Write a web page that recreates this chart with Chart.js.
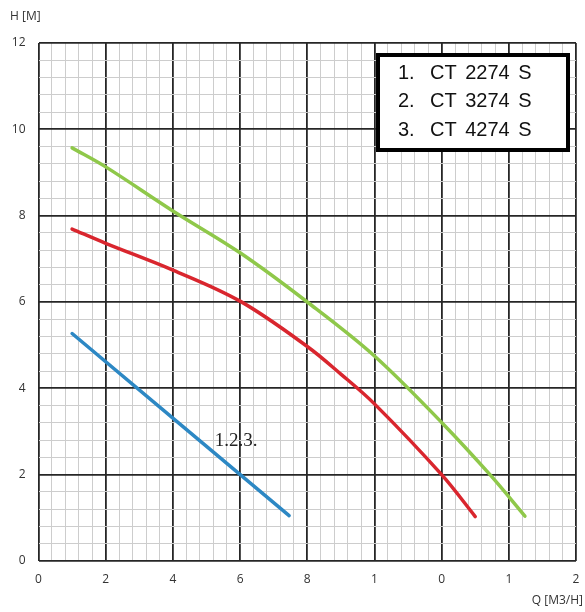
<!DOCTYPE html>
<html>
<head>
<meta charset="utf-8">
<script src="https://cdn.jsdelivr.net/npm/chart.js@4/dist/chart.umd.min.js"></script>
<style>
  html, body { margin: 0; padding: 0; background: #fff; }
  #wrap { width: 585px; height: 612px; position: relative; }
</style>
</head>
<body>
<div id="wrap"><canvas id="pumpchart"></canvas></div>
<script>
// pump curves, Q in m3/h, H in m
const pumpNames = ['CT 2274 S', 'CT 3274 S', 'CT 4274 S'];

const blueQ = [1.0, 7.46];
const blueH = [5.27, 1.05];

const redQ = [1.0, 2, 4, 6, 8, 9, 10, 12, 13.0];
const redH = [7.69, 7.36, 6.74, 6.02, 4.97, 4.33, 3.64, 2.0, 1.03];

const greenQ = [1.0, 2, 4, 6, 8, 10, 12, 13.44, 14.48];
const greenH = [9.57, 9.13, 8.11, 7.14, 6.0, 4.75, 3.21, 2.0, 1.04];

// tick labels as printed on the original (cut off digits)
const xTickLabels = ['0', '2', '4', '6', '8', '1', '0', '1', '2'];
const yTickLabels = ['0', '2', '4', '6', '8', '10', '12'];

const curveLabel = '1.2.3.';
const curveLabelAt = { x: 5.25, y: 2.66 };

function toPoints(qs, hs) {
    return qs.map((q, i) => ({ x: q, y: hs[i] }));
}

function isMajor(v) {
    return Math.abs(v / 2 - Math.round(v / 2)) < 1e-6;
}

const gridStyle = {
    drawTicks: false,
    color: (c) => isMajor(c.tick.value) ? '#262626' : '#cdcdcd',
    lineWidth: (c) => isMajor(c.tick.value) ? 1.8 : 1,
};

const extras = {
    id: 'extras',
    afterDatasetsDraw(chart) {
        const { ctx, chartArea, scales } = chart;
        ctx.save();

        // axis titles
        ctx.fillStyle = '#333';
        ctx.font = '12px "Open Sans"';
        ctx.textBaseline = 'middle';
        ctx.textAlign = 'left';
        ctx.fillText('H [M]', 10, 17);
        ctx.textAlign = 'right';
        ctx.fillText('Q [M3/H]', 583, 601);

        // curve label
        ctx.fillStyle = '#222';
        ctx.font = '19px "Liberation Serif"';
        ctx.textAlign = 'left';
        ctx.textBaseline = 'alphabetic';
        ctx.fillText(curveLabel, scales.x.getPixelForValue(curveLabelAt.x), scales.y.getPixelForValue(curveLabelAt.y));

        // legend box
        const bx = chartArea.right - 198, by = chartArea.top + 12, bw = 190, bh = 95;
        ctx.fillStyle = '#fff';
        ctx.fillRect(bx, by, bw, bh);
        ctx.lineWidth = 4;
        ctx.strokeStyle = '#000';
        ctx.strokeRect(bx, by, bw, bh);

        ctx.fillStyle = '#111';
        ctx.font = '20px "Liberation Sans"';
        ctx.textBaseline = 'middle';
        ctx.wordSpacing = '3px';
        pumpNames.forEach((name, i) => {
            const ty = by + 18 + i * 28.7;
            ctx.fillText((i + 1) + '.', bx + 20, ty);
            ctx.fillText(name, bx + 52, ty);
        });
        ctx.restore();
    }
};

const ctx = document.getElementById('pumpchart');

const pumpchart = new Chart(ctx, {
    type: 'scatter',
    data: {
        datasets: [
            {
                label: pumpNames[0],
                data: toPoints(blueQ, blueH),
                borderColor: '#2d88c4',
            },
            {
                label: pumpNames[1],
                data: toPoints(redQ, redH),
                borderColor: '#d9262e',
            },
            {
                label: pumpNames[2],
                data: toPoints(greenQ, greenH),
                borderColor: '#8fc84a',
            },
        ]
    },
    options: {
        responsive: true,
        maintainAspectRatio: false,
        animation: false,
        datasets: {
            scatter: {
                showLine: true,
                pointRadius: 0,
                pointHoverRadius: 0,
                borderWidth: 3.5,
                borderCapStyle: 'round',
                tension: 0.35,
            }
        },
        layout: {
            padding: { left: 0, top: 43, right: 9, bottom: 0 }
        },
        plugins: {
            legend: { display: false },
            tooltip: { enabled: false },
        },
        scales: {
            x: {
                type: 'linear',
                min: 0,
                max: 16,
                afterFit: (scale) => {
                    scale.height = 51;
                    scale.paddingLeft = 0;
                    scale.paddingRight = 0;
                },
                ticks: {
                    stepSize: 0.4,
                    autoSkip: false,
                    maxRotation: 0,
                    padding: 11,
                    color: '#333',
                    font: { family: 'Open Sans', size: 12 },
                    callback: function(value) {
                        return isMajor(value) ? xTickLabels[Math.round(value / 2)] : '';
                    }
                },
                grid: gridStyle,
                border: { display: false },
            },
            y: {
                type: 'linear',
                min: 0,
                max: 12,
                afterFit: (scale) => { scale.width = 38.5; },
                ticks: {
                    stepSize: 0.4,
                    autoSkip: false,
                    padding: 13,
                    color: '#333',
                    font: { family: 'Open Sans', size: 12 },
                    callback: function(value) {
                        return isMajor(value) ? yTickLabels[Math.round(value / 2)] : '';
                    }
                },
                grid: gridStyle,
                border: { display: false },
            }
        }
    },
    plugins: [extras]
});
</script>
</body>
</html>
